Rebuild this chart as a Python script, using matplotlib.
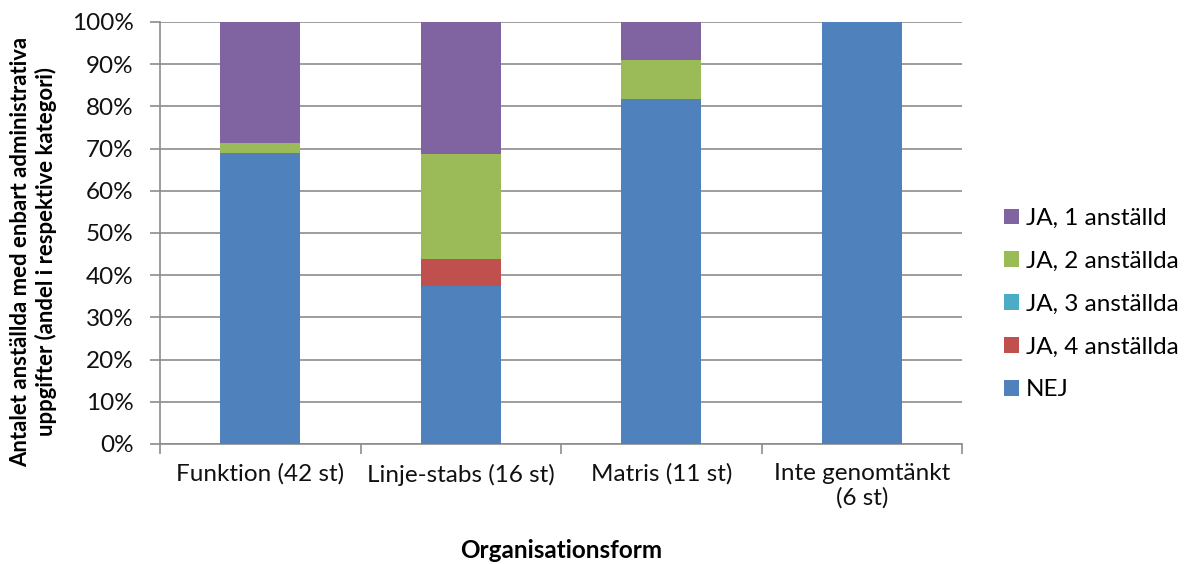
import matplotlib
matplotlib.use("Agg")
import matplotlib.pyplot as plt
import numpy as np
from matplotlib.ticker import FuncFormatter, MultipleLocator

plt.rcParams['font.family'] = ['Lato', 'DejaVu Sans']

categories = ["Funktion (42 st)", "Linje-stabs (16 st)", "Matris (11 st)", "Inte genomtänkt\n(6 st)"]
counts = [42, 16, 11, 6]
nej = [29, 6, 9, 6]
ja4 = [0, 1, 0, 0]
ja3 = [0, 0, 0, 0]
ja2 = [1, 4, 1, 0]
ja1 = [12, 5, 1, 0]

series = [
    ("NEJ", nej, "#4F81BD"),
    ("JA, 4 anställda", ja4, "#C0504D"),
    ("JA, 3 anställda", ja3, "#4BACC6"),
    ("JA, 2 anställda", ja2, "#9BBB59"),
    ("JA, 1 anställd", ja1, "#8064A2"),
]

FS = 17.5
GRID = '#8C8C8C'

fig = plt.figure(figsize=(11.84, 5.64), dpi=100)
ax = fig.add_axes([160 / 1184, 1 - 444 / 564, (962 - 160) / 1184, (444 - 22) / 564])

x = np.arange(len(categories))
bottom = np.zeros(len(categories))
handles = []
for name, vals, color in series:
    share = np.array(vals, dtype=float) / np.array(counts, dtype=float)
    h = ax.bar(x, share, width=0.4, bottom=bottom, color=color, label=name, zorder=3)
    handles.append(h)
    bottom += share

ax.set_xlim(-0.5, len(categories) - 0.5)
ax.set_ylim(0, 1)
ax.yaxis.set_major_locator(MultipleLocator(0.1))
ax.yaxis.set_major_formatter(FuncFormatter(lambda v, p: f"{v * 100:.0f}%"))
ax.grid(axis='y', color=GRID, linewidth=1.2, zorder=0)

ax.set_xticks(x)
ax.set_xticklabels(categories, fontsize=FS, color='#111111', linespacing=1.15)
ax.set_xticks(np.arange(-0.5, len(categories)), minor=True)
ax.tick_params(axis='x', which='major', length=0, pad=14)
ax.tick_params(axis='x', which='minor', length=7, color=GRID, width=1.2)
ax.tick_params(axis='y', length=7, color=GRID, width=1.2, labelsize=FS, labelcolor='#111111', pad=12)

for side in ['top', 'right']:
    ax.spines[side].set_visible(False)
for side in ['left', 'bottom']:
    ax.spines[side].set_color(GRID)
    ax.spines[side].set_linewidth(1.2)

ax.set_xlabel("Organisationsform", fontsize=FS, fontweight='bold', labelpad=22)
ax.set_ylabel("Antalet anställda med enbart administrativa\nuppgifter (andel i respektive kategori)",
              fontsize=15.9, fontweight='bold', linespacing=1.2)
ax.yaxis.set_label_coords(-103 / 802, 0.455)

leg_handles = handles[::-1]
leg_labels = [s[0] for s in series][::-1]
fig.legend(leg_handles, leg_labels, loc='upper left', bbox_to_anchor=(1004 / 1184, 1 - 208 / 564),
           frameon=False, fontsize=FS, handlelength=0.62, handleheight=0.62, handletextpad=0.28,
           labelspacing=0.9, borderaxespad=0, borderpad=0)

fig.savefig("out.png", dpi=100)
